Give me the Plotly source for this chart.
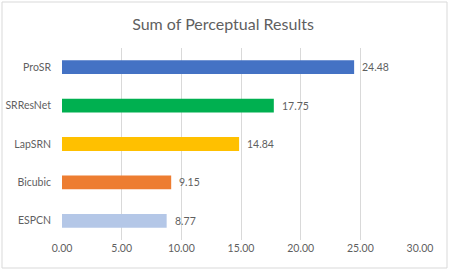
import plotly.graph_objects as go

categories = ["ESPCN", "Bicubic", "LapSRN", "SRResNet", "ProSR"]
values = [8.77, 9.15, 14.84, 17.75, 24.48]
colors = ["#B4C7E7", "#ED7D31", "#FFC000", "#00B050", "#4472C4"]
tick_vals = [0, 5, 10, 15, 20, 25, 30]
tick_text = ["0.00", "5.00", "10.00", "15.00", "20.00", "25.00", "30.00"]

FONT = "Lato"
TXT = "#5f5f5f"

fig = go.Figure(go.Bar(
    y=categories, x=values, orientation="h",
    marker=dict(color=colors, line=dict(width=0)),
    width=0.36,
    cliponaxis=False,
))

for c, v in zip(categories, values):
    fig.add_annotation(x=v, y=c, text=f"{v:.2f}", showarrow=False,
                       xanchor="left", xshift=6,
                       font=dict(family=FONT, size=10.5, color=TXT))

W, H = 453, 271
ml, mr, mt, mb = 62, 33, 48, 31
pw, ph = W - ml - mr, H - mt - mb

def px(x):
    return (x - ml) / pw

def py(y):
    return (H - mb - y) / ph

fig.add_shape(type="rect", xref="paper", yref="paper",
              x0=px(2), x1=px(447), y0=py(268), y1=py(2),
              line=dict(color="#D9D9D9", width=1), layer="below")

fig.update_layout(
    width=W, height=H,
    margin=dict(l=ml, r=mr, t=mt, b=mb),
    paper_bgcolor="white", plot_bgcolor="white",
    showlegend=False,
    title=dict(text="Sum of Perceptual Results", x=(223) / W, xanchor="center",
               y=1 - 24 / H, yanchor="middle",
               font=dict(family=FONT, size=16, color=TXT)),
    xaxis=dict(range=[0, 30], tickvals=tick_vals, ticktext=tick_text,
               showgrid=True, gridcolor="#D9D9D9", gridwidth=1,
               zeroline=False, showline=False, ticks="", automargin=False,
               tickfont=dict(family=FONT, size=10.5, color=TXT)),
    yaxis=dict(showgrid=False, zeroline=False, showline=False, ticks="",
               ticklabelstandoff=10, automargin=False,
               tickfont=dict(family=FONT, size=10.5, color=TXT)),
    bargap=0.64,
)

fig.write_html("out.html")
